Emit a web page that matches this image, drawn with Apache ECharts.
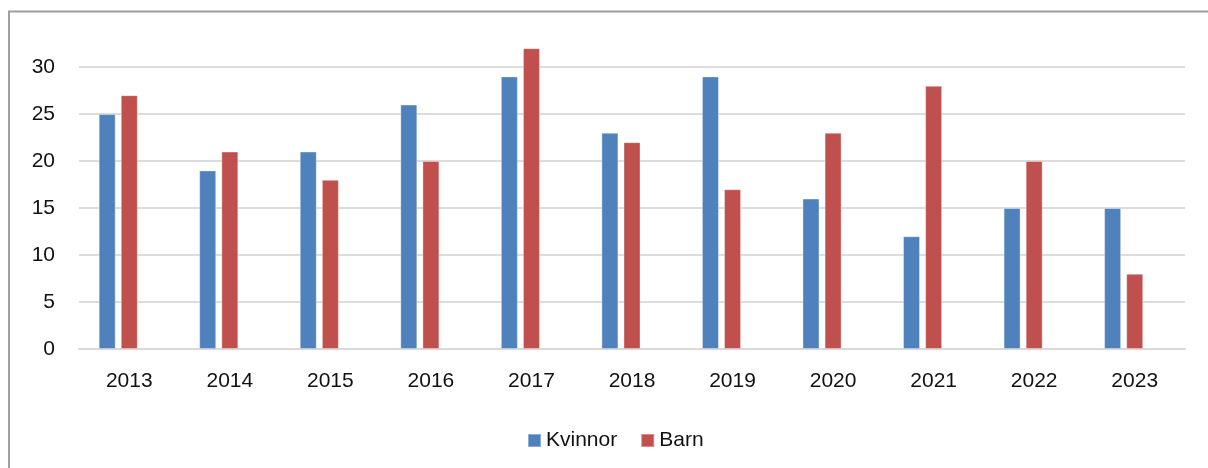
<!DOCTYPE html>
<html>
<head>
<meta charset="utf-8">
<script src="https://cdn.jsdelivr.net/npm/echarts@6/dist/echarts.min.js"></script>
<style>
  html, body { margin: 0; padding: 0; background: #fff; }
  #chart { width: 1208px; height: 468px; }
</style>
</head>
<body>
<div id="chart"></div>
<script>
var years = ['2013', '2014', '2015', '2016', '2017', '2018', '2019', '2020', '2021', '2022', '2023'];
var kvinnor = [25, 19, 21, 26, 29, 23, 29, 16, 12, 15, 15];
var barn = [27, 21, 18, 20, 32, 22, 17, 23, 28, 20, 8];
var yTicks = [0, 5, 10, 15, 20, 25, 30];

var chart = echarts.init(document.getElementById('chart'));
var font = '"Liberation Sans", Arial, sans-serif';

chart.setOption({
  animation: false,
  textStyle: { fontFamily: font },
  graphic: [{
    type: 'rect',
    shape: { x: 9, y: 11.5, width: 1400, height: 700 },
    style: { fill: null, stroke: '#9f9f9f', lineWidth: 2 },
    silent: true
  }],
  grid: { left: 79, right: 23, top: 67, bottom: 119 },
  legend: {
    data: ['Kvinnor', 'Barn'],
    left: 522,
    top: 425,
    itemWidth: 13,
    itemHeight: 13,
    itemGap: 23,
    icon: 'rect',
    textStyle: { fontSize: 21, color: '#111', fontFamily: font }
  },
  xAxis: {
    type: 'category',
    data: years,
    axisLine: { lineStyle: { color: '#d9d9d9', width: 2 } },
    axisTick: { show: false },
    axisLabel: { fontSize: 21, color: '#111', margin: 22 }
  },
  yAxis: {
    type: 'value',
    min: yTicks[0],
    max: yTicks[yTicks.length - 1],
    interval: 5,
    axisLine: { show: false },
    axisTick: { show: false },
    axisLabel: { fontSize: 21, color: '#111', margin: 24 },
    splitLine: { lineStyle: { color: '#dcdcdc', width: 2 } }
  },
  series: [
    {
      name: 'Kvinnor',
      type: 'bar',
      data: kvinnor,
      barWidth: 17,
      barGap: '30%',
      clip: false,
      itemStyle: { color: '#4f81bd', borderColor: 'rgba(255,255,255,0.35)', borderWidth: 1 }
    },
    {
      name: 'Barn',
      type: 'bar',
      data: barn,
      barWidth: 17,
      barGap: '30%',
      clip: false,
      itemStyle: { color: '#c0504d', borderColor: 'rgba(255,255,255,0.35)', borderWidth: 1 }
    },
    {
      // empty third slot, as in the source chart, keeps the pair left of the tick
      name: '',
      type: 'bar',
      data: [],
      barWidth: 17,
      barGap: '30%'
    }
  ]
});
</script>
</body>
</html>
